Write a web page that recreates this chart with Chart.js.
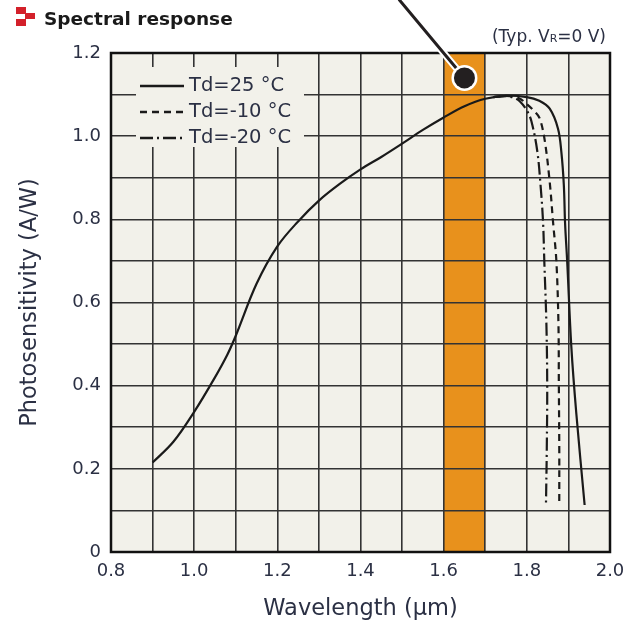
<!DOCTYPE html>
<html>
<head>
<meta charset="utf-8">
<script src="https://cdn.jsdelivr.net/npm/chart.js@4.4.1/dist/chart.umd.min.js"></script>
<style>
  html, body { margin: 0; padding: 0; background: #fff; }
  #wrap { width: 637px; height: 628px; }
</style>
</head>
<body>
<div id="wrap"><canvas id="chart" width="637" height="628"></canvas></div>
<script>
// Spectral response - photosensitivity vs wavelength

// Td = 25 °C (solid)
const wl25 = [0.90, 0.95, 1.00, 1.05, 1.08, 1.10, 1.15, 1.20, 1.25, 1.30, 1.35, 1.40, 1.45, 1.50, 1.55, 1.60, 1.65, 1.70, 1.75, 1.80, 1.83, 1.855, 1.875, 1.883, 1.889, 1.892, 1.897, 1.907, 1.919, 1.939];
const resp25 = [0.215, 0.265, 0.337, 0.42, 0.475, 0.52, 0.645, 0.735, 0.795, 0.845, 0.885, 0.92, 0.95, 0.982, 1.015, 1.045, 1.072, 1.090, 1.097, 1.094, 1.085, 1.066, 1.018, 0.962, 0.882, 0.79, 0.70, 0.494, 0.333, 0.113];

// Td = -10 °C (dashed)
const wlM10 = [1.72, 1.75, 1.78, 1.80, 1.82, 1.831, 1.843, 1.855, 1.863, 1.871, 1.876, 1.877, 1.878, 1.878];
const respM10 = [1.094, 1.097, 1.092, 1.077, 1.058, 1.043, 0.99, 0.89, 0.794, 0.70, 0.55, 0.40, 0.25, 0.118];

// Td = -20 °C (dash-dot)
const wlM20 = [1.72, 1.75, 1.77, 1.783, 1.80, 1.811, 1.825, 1.833, 1.839, 1.842, 1.847, 1.849, 1.848, 1.846];
const respM20 = [1.094, 1.096, 1.092, 1.084, 1.062, 1.036, 0.965, 0.882, 0.794, 0.70, 0.55, 0.40, 0.25, 0.113];

const legendLabels = ['Td=25 °C', 'Td=-10 °C', 'Td=-20 °C'];
const xTickLabels = ['0.8', '1.0', '1.2', '1.4', '1.6', '1.8', '2.0'];
const yTickLabels = ['0', '0.2', '0.4', '0.6', '0.8', '1.0', '1.2'];
const bandRange = [1.6, 1.7];
const markerPoint = [1.65, 1.14];

const INK = '#2b3044';
const FONT = "'DejaVu Sans', Verdana, sans-serif";
const dashes = [[], [7, 5], [13, 4, 2, 4]];

const toPoints = (xs, ys) => xs.map((x, i) => ({ x: x, y: ys[i] }));
const pickLabel = (list) => (v) => {
    const hit = list.find(l => Math.abs(parseFloat(l) - v) < 1e-6);
    return hit === undefined ? '' : hit;
};

const series = [
    toPoints(wl25, resp25),
    toPoints(wlM10, respM10),
    toPoints(wlM20, respM20)
];

const decor = {
    id: 'decor',
    beforeDraw(chart) {
        const { ctx, chartArea: a, scales: { x } } = chart;
        ctx.save();
        ctx.fillStyle = '#f2f1ea';
        ctx.fillRect(a.left, a.top, a.right - a.left, a.bottom - a.top);
        // orange band
        const b0 = x.getPixelForValue(bandRange[0]);
        const b1 = x.getPixelForValue(bandRange[1]);
        ctx.fillStyle = '#e8911c';
        ctx.fillRect(b0, a.top, b1 - b0, a.bottom - a.top);
        ctx.restore();
    },
    beforeDatasetsDraw(chart) {
        const { ctx, chartArea: a } = chart;
        ctx.save();
        // legend box inside plot
        const lx = a.left + 25, ly = a.top + 14;
        ctx.fillStyle = '#f2f1ea';
        ctx.fillRect(lx, ly, 168, 80);
        ctx.font = '19.5px ' + FONT;
        ctx.textBaseline = 'middle';
        legendLabels.forEach((txt, i) => {
            const y = ly + 19 + i * 26;
            ctx.strokeStyle = '#1a1a1a';
            ctx.lineWidth = 2.5;
            ctx.setLineDash(dashes[i]);
            ctx.beginPath();
            ctx.moveTo(lx + 4, y);
            ctx.lineTo(lx + 48, y);
            ctx.stroke();
            ctx.setLineDash([]);
            ctx.fillStyle = INK;
            ctx.fillText(txt, lx + 53, y);
        });
        ctx.restore();
    },
    afterDraw(chart) {
        const { ctx, chartArea: a, scales: { x, y } } = chart;
        ctx.save();
        // frame
        ctx.strokeStyle = '#111';
        ctx.lineWidth = 2.5;
        ctx.strokeRect(a.left, a.top, a.right - a.left, a.bottom - a.top);

        // callout marker
        const mx = x.getPixelForValue(markerPoint[0]);
        const my = y.getPixelForValue(markerPoint[1]);
        ctx.lineCap = 'round';
        ctx.strokeStyle = '#fff';
        ctx.lineWidth = 7;
        ctx.beginPath(); ctx.moveTo(mx, my); ctx.lineTo(mx - 65, 0); ctx.stroke();
        ctx.strokeStyle = '#231f20';
        ctx.lineWidth = 3;
        ctx.beginPath(); ctx.moveTo(mx, my); ctx.lineTo(mx - 65, 0); ctx.stroke();
        ctx.fillStyle = '#fff';
        ctx.beginPath(); ctx.arc(mx, my, 13, 0, Math.PI * 2); ctx.fill();
        ctx.fillStyle = '#231f20';
        ctx.beginPath(); ctx.arc(mx, my, 10.5, 0, Math.PI * 2); ctx.fill();

        // title with red icon
        ctx.fillStyle = '#d3202a';
        ctx.fillRect(16, 7, 10, 7);
        ctx.fillRect(25, 13, 10, 6);
        ctx.fillRect(16, 19, 10, 7);
        ctx.fillStyle = '#1a1a1a';
        ctx.font = 'bold 18.5px ' + FONT;
        ctx.textBaseline = 'alphabetic';
        ctx.textAlign = 'left';
        ctx.fillText('Spectral response', 44, 25);

        // condition note, right aligned
        ctx.fillStyle = INK;
        const parts = [['(Typ. V', '17px'], ['R', '11px'], ['=0 V)', '17px']];
        let w = 0;
        parts.forEach(p => { ctx.font = p[1] + ' ' + FONT; w += ctx.measureText(p[0]).width; });
        let cx = a.right - 4 - w;
        parts.forEach(p => {
            ctx.font = p[1] + ' ' + FONT;
            ctx.fillText(p[0], cx, 42);
            cx += ctx.measureText(p[0]).width;
        });
        ctx.restore();
    }
};

new Chart(document.getElementById('chart'), {
    type: 'line',
    data: {
        datasets: series.map((pts, i) => ({
            label: legendLabels[i],
            data: pts,
            borderColor: '#1a1a1a',
            borderWidth: 2.2,
            borderDash: dashes[i],
            pointRadius: 0,
            tension: 0.35,
            fill: false
        }))
    },
    options: {
        responsive: false,
        animation: false,
        devicePixelRatio: 1,
        layout: { padding: { top: 53, right: 27, bottom: 0, left: 0 } },
        plugins: {
            legend: { display: false },
            tooltip: { enabled: false }
        },
        scales: {
            x: {
                type: 'linear',
                min: 0.8,
                max: 2.0,
                afterFit: (s) => { s.height = 76; },
                ticks: {
                    stepSize: 0.1,
                    autoSkip: false,
                    maxRotation: 0,
                    padding: 9,
                    color: INK,
                    font: { family: FONT, size: 18 },
                    callback: pickLabel(xTickLabels)
                },
                grid: { color: '#333', lineWidth: 1.6, drawTicks: false },
                border: { display: false },
                title: {
                    display: true,
                    text: 'Wavelength (µm)',
                    color: INK,
                    font: { family: FONT, size: 22.5 },
                    padding: { bottom: 5 }
                }
            },
            y: {
                min: 0,
                max: 1.2,
                afterFit: (s) => { s.width = 111; },
                ticks: {
                    stepSize: 0.1,
                    autoSkip: false,
                    padding: 10,
                    color: INK,
                    font: { family: FONT, size: 18 },
                    callback: pickLabel(yTickLabels)
                },
                grid: { color: '#333', lineWidth: 1.6, drawTicks: false },
                border: { display: false },
                title: {
                    display: true,
                    text: 'Photosensitivity (A/W)',
                    color: INK,
                    font: { family: FONT, size: 22.5 },
                    padding: { top: 17 }
                }
            }
        }
    },
    plugins: [decor]
});
</script>
</body>
</html>
